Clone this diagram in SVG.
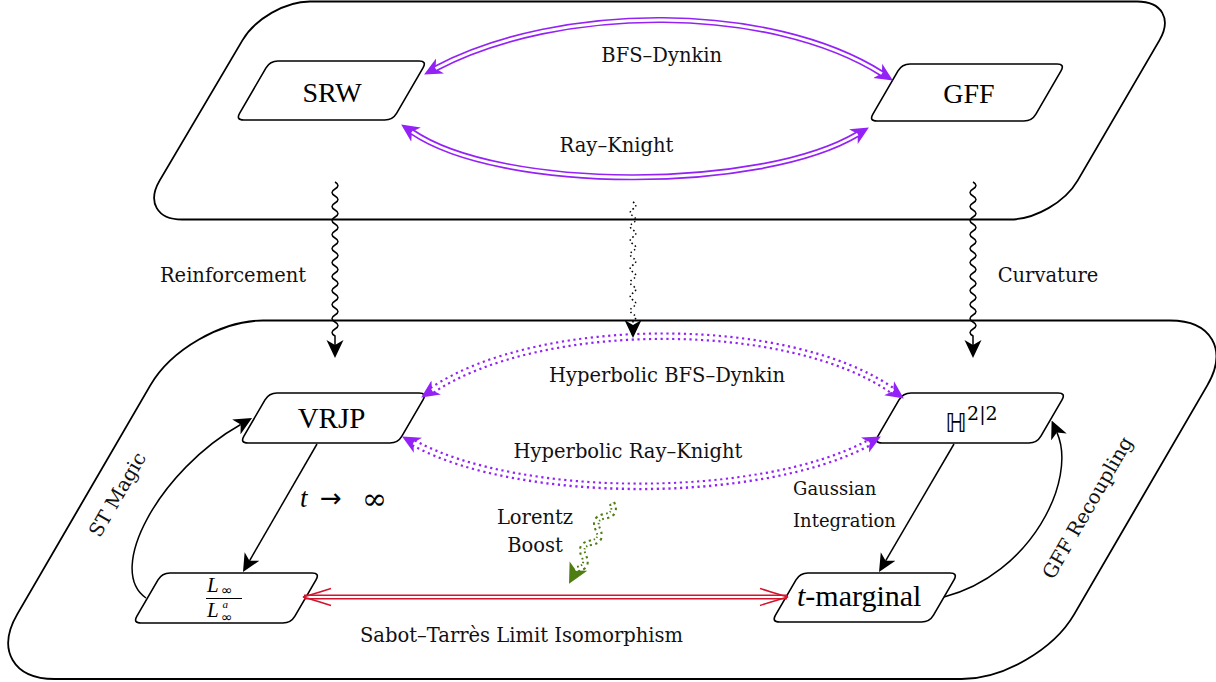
<svg xmlns="http://www.w3.org/2000/svg" width="1216" height="682" viewBox="0 0 1216 682">
  <style>
    .frame { fill: none; stroke: #000; stroke-width: 1.8; }
    .node { fill: #fff; stroke: #000; stroke-width: 1.6; }
    .lbl { font-family: "DejaVu Serif", "Liberation Serif", serif; font-size: 19.5px; fill: #111; }
    .nd { font-family: "Liberation Serif", "DejaVu Serif", serif; fill: #000; }
    .math { font-family: "Liberation Serif", "DejaVu Serif", serif; font-style: italic; }
    .sym { font-family: "DejaVu Sans", "Liberation Serif", sans-serif; }
    .pdbl { fill: none; stroke: #9422f7; stroke-width: 6.2; }
    .pdot { fill: none; stroke: #9422f7; stroke-width: 7.6; stroke-dasharray: 2.2 3.6; }
    .gap { fill: none; stroke: #fff; }
    .blk { fill: none; stroke: #000; stroke-width: 1.5; }
    .snake { fill: none; stroke: #000; stroke-width: 1.5; }
    .red { fill: none; stroke: #d2142c; }
  </style>
  <defs>
    <marker id="ah-black" viewBox="0 -9 18 18" markerWidth="18" markerHeight="18" refX="5" refY="0" orient="auto-start-reverse" markerUnits="userSpaceOnUse">
      <path d="M0,-8.5 L18,0 L0,8.5 L5,0 Z" fill="#000"/>
    </marker>
    <marker id="ah-purple" viewBox="0 -9 18 18" markerWidth="18" markerHeight="18" refX="5" refY="0" orient="auto-start-reverse" markerUnits="userSpaceOnUse">
      <path d="M0,-8.5 L18,0 L0,8.5 L5,0 Z" fill="#9422f7"/>
    </marker>
    <marker id="ah-green" viewBox="0 -11 20 22" markerWidth="20" markerHeight="22" refX="5" refY="0" orient="auto" markerUnits="userSpaceOnUse">
      <path d="M0,-10 L20,0 L0,10 L5,0 Z" fill="#4e7d12"/>
    </marker>
  </defs>

  <!-- upper layer: discrete models -->
  <g id="layer-discrete">
    <path class="frame" d="M310,1.5 L1137,1.5 C1162,1.5 1171.9,18.9 1159.4,40.4 L1077.6,180.6 C1065.1,202.1 1034.9,219.5 1010,219.5 L182,219.5 C157.1,219.5 147.1,202.1 159.6,180.6 L242.4,40.4 C254.9,18.9 285.1,1.5 310,1.5 Z"/>
  </g>

  <!-- lower layer: hyperbolic / reinforced models -->
  <g id="layer-hyperbolic">
    <path class="frame" d="M263,320.5 L1170,320.5 C1211.4,320.5 1228.1,349.6 1207.3,385.35 L1074.3,614.15 C1053.5,649.95 1003,679 961.6,679 L54.6,679 C13.2,679 -3.5,649.95 17.3,614.15 L150.3,385.35 C171.1,349.55 221.6,320.5 263,320.5 Z"/>
  </g>

  <g id="node-srw">
    <path class="node" d="M278,61 L419,61 Q427,61 423,67.9 L396.7,113.1 Q392.7,120 384.7,120 L243.7,120 Q235.7,120 239.7,113.1 L266,67.9 Q270,61 278,61 Z"/>
    <text class="nd" x="332" y="102" text-anchor="middle" style="font-size:28px">SRW</text>
  </g>

  <g id="node-gff">
    <path class="node" d="M910,64 L1057,64 Q1065,64 1061,70.9 L1035.9,114.1 Q1031.9,121 1023.9,121 L876.9,121 Q868.9,121 872.9,114.1 L898,70.9 Q902,64 910,64 Z"/>
    <text class="nd" x="969" y="103" text-anchor="middle" style="font-size:28px">GFF</text>
  </g>

  <g id="node-vrjp">
    <path class="node" d="M277,393 L419,393 Q427,393 423,399.9 L401.9,436.1 Q397.9,443 389.9,443 L247.9,443 Q239.9,443 243.9,436.1 L265,399.9 Q269,393 277,393 Z"/>
    <text class="nd" x="331.5" y="428" text-anchor="middle" style="font-size:29px">VRJP</text>
  </g>

  <g id="node-h22">
    <path class="node" d="M911,393 L1058,393 Q1066,393 1062,399.9 L1040.9,436.1 Q1036.9,443 1028.9,443 L881.9,443 Q873.9,443 877.9,436.1 L899,399.9 Q903,393 911,393 Z"/>
    <text class="nd" x="945" y="432" style="font-size:27px"><tspan class="sym" style="font-size:26px">ℍ</tspan><tspan style="font-size:19px; font-family:'DejaVu Serif', serif" dy="-12">2|2</tspan></text>
  </g>

  <g id="node-ratio">
    <path class="node" d="M170,573 L312,573 Q320,573 316,579.9 L294.9,616.1 Q290.9,623 282.9,623 L140.9,623 Q132.9,623 136.9,616.1 L158,579.9 Q162,573 170,573 Z"/>
    <text class="math" x="207" y="592" style="font-size:21px">L</text>
    <text class="sym" x="221" y="595" style="font-size:14px">∞</text>
    <line x1="206" y1="598.5" x2="242" y2="598.5" stroke="#000" stroke-width="1"/>
    <text class="math" x="207" y="617" style="font-size:21px">L</text>
    <text class="math" x="222.5" y="607.5" style="font-size:11px">a</text>
    <text class="sym" x="221" y="622" style="font-size:14px">∞</text>
  </g>

  <g id="node-tmarginal">
    <path class="node" d="M808,573 L950,573 Q958,573 954,579.9 L933.5,615.1 Q929.5,622 921.5,622 L779.5,622 Q771.5,622 775.5,615.1 L796,579.9 Q800,573 808,573 Z"/>
    <text class="nd" x="797" y="606" style="font-size:30px"><tspan font-style="italic">t</tspan>-marginal</text>
  </g>

  <g id="connectors">
    <!-- BFS–Dynkin (double line) -->
    <path class="pdbl" d="M435.6,68.4 C560,3 770,3 881.9,73.6" marker-start="url(#ah-purple)" marker-end="url(#ah-purple)"/>
    <path class="gap" stroke-width="2.8" d="M435.6,68.4 C560,3 770,3 881.9,73.6"/>
    <!-- Ray–Knight (double line) -->
    <path class="pdbl" d="M411.9,131.8 C500,192 760,192 857.7,134.1" marker-start="url(#ah-purple)" marker-end="url(#ah-purple)"/>
    <path class="gap" stroke-width="2.8" d="M411.9,131.8 C500,192 760,192 857.7,134.1"/>

    <!-- hyperbolic counterparts (dotted double line) -->
    <path class="pdot" d="M432,390.3 C540,318 790,318 893.2,391.1" marker-start="url(#ah-purple)" marker-end="url(#ah-purple)"/>
    <path class="gap" stroke-width="3.2" d="M432,390.3 C540,318 790,318 893.2,391.1"/>
    <path class="pdot" d="M413.5,442.8 C520,501 760,501 869.4,442.6" marker-start="url(#ah-purple)" marker-end="url(#ah-purple)"/>
    <path class="gap" stroke-width="3.2" d="M413.5,442.8 C520,501 760,501 869.4,442.6"/>

    <!-- layer-to-layer deformations -->
    <path class="snake" d="M335,182 q6,3.5 0,7 t0,7 t0,7 t0,7 t0,7 t0,7 t0,7 t0,7 t0,7 t0,7 t0,7 t0,7 t0,7 t0,7 t0,7 t0,7 t0,7 t0,7 t0,7 t0,7 t0,7 t0,7 l0,9" marker-end="url(#ah-black)"/>
    <path class="snake" d="M973,182 q6,3.5 0,7 t0,7 t0,7 t0,7 t0,7 t0,7 t0,7 t0,7 t0,7 t0,7 t0,7 t0,7 t0,7 t0,7 t0,7 t0,7 t0,7 t0,7 t0,7 t0,7 t0,7 t0,7 l0,9" marker-end="url(#ah-black)"/>
    <path class="snake" stroke-width="1.6" stroke-dasharray="1.5 2.6" d="M633,202 q5.5,3.5 0,7 t0,7 t0,7 t0,7 t0,7 t0,7 t0,7 t0,7 t0,7 t0,7 t0,7 t0,7 t0,7 t0,7 t0,7 t0,7 t0,7 l0,4" marker-end="url(#ah-black)"/>

    <!-- Lorentz boost -->
    <g transform="translate(612,503) rotate(118)">
      <path fill="none" stroke="#4e7d12" stroke-width="6.6" stroke-dasharray="2 3" d="M0,0 q7.5,-10 15,0 t15,0 t15,0 t15,0 t15,0 l1.5,0" marker-end="url(#ah-green)"/>
      <path class="gap" stroke-width="2.6" d="M0,0 q7.5,-10 15,0 t15,0 t15,0 t15,0 t15,0 l1.5,0"/>
    </g>

    <!-- within-layer maps -->
    <path class="blk" d="M317,444 L249.5,560.8" marker-end="url(#ah-black)"/>
    <path class="blk" d="M954,444 L885.6,560.8" marker-end="url(#ah-black)"/>
    <path class="blk" d="M146,598 C105,570 160,470 240.7,424.5" marker-end="url(#ah-black)"/>
    <path class="blk" d="M944,597 C1030,575 1078,480 1056.9,432.4" marker-end="url(#ah-black)"/>

    <!-- Sabot–Tarrès limit isomorphism (double line, open tips) -->
    <path class="red" stroke-width="5" d="M304,597 L787,597"/>
    <path class="gap" stroke-width="2" d="M304,597 L787,597"/>
    <path class="red" stroke-width="1.6" d="M331,588.5 C318,592.5 309,595.5 303,597 C309,598.5 318,601.5 331,605.5"/>
    <path class="red" stroke-width="1.6" d="M760,588.5 C773,592.5 782,595.5 788,597 C782,598.5 773,601.5 760,605.5"/>
  </g>

  <g id="labels">
    <text class="lbl" x="661.7" y="61.7" text-anchor="middle">BFS–Dynkin</text>
    <text class="lbl" x="616.5" y="151.7" text-anchor="middle">Ray–Knight</text>
    <text class="lbl" x="233" y="282" text-anchor="middle">Reinforcement</text>
    <text class="lbl" x="1048" y="282" text-anchor="middle">Curvature</text>
    <text class="lbl" x="667" y="382" text-anchor="middle">Hyperbolic BFS–Dynkin</text>
    <text class="lbl" x="628" y="458" text-anchor="middle">Hyperbolic Ray–Knight</text>
    <text class="lbl" x="535" y="524" text-anchor="middle">Lorentz</text>
    <text class="lbl" x="535" y="552" text-anchor="middle">Boost</text>
    <text class="lbl" x="793" y="495" style="font-size:18px">Gaussian</text>
    <text class="lbl" x="793" y="527" style="font-size:18px">Integration</text>
    <text class="lbl" x="521.5" y="642" text-anchor="middle">Sabot–Tarrès Limit Isomorphism</text>
    <text class="lbl" transform="translate(118,495) rotate(-60)" x="0" y="6" text-anchor="middle">ST Magic</text>
    <text class="lbl" transform="translate(1088,508) rotate(-60)" x="0" y="6" text-anchor="middle">GFF Recoupling</text>
    <text class="nd" y="507" style="font-size:27px"><tspan class="math" x="300">t</tspan><tspan class="sym" x="320" style="font-size:26px">→</tspan><tspan x="362" style="font-family:'DejaVu Serif', serif; font-size:30px" dy="2">∞</tspan></text>
  </g>
</svg>
